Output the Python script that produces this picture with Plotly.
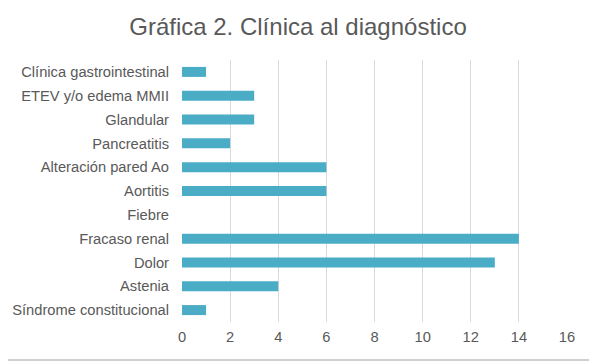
import plotly.graph_objects as go

categories = ["Clínica gastrointestinal", "ETEV y/o edema MMII", "Glandular", "Pancreatitis",
              "Alteración pared Ao", "Aortitis", "Fiebre", "Fracaso renal", "Dolor", "Astenia",
              "Síndrome constitucional"]
values = [1, 3, 3, 2, 6, 6, 0, 14, 13, 4, 1]
x_ticks = [0, 2, 4, 6, 8, 10, 12, 14, 16]
title_text = "Gráfica 2. Clínica al diagnóstico"

# page body adds an 8px offset; figure is sized to fill the rest of the window
W, H = 589, 355
L, R, T, B = 174, 30, 52, 41
pw, ph = W - L - R, H - T - B

fig = go.Figure(go.Bar(
    x=values, y=categories, orientation="h",
    marker=dict(color="#4BACC6", line=dict(width=0)),
    width=0.42,
))

fig.update_layout(
    width=W, height=H,
    margin=dict(l=L, r=R, t=T, b=B, autoexpand=False),
    paper_bgcolor="white", plot_bgcolor="white",
    font=dict(family="Liberation Sans, Arial, sans-serif", color="#595959", size=14.7),
    title=dict(text=title_text, x=(298 - 8) / W, xref="container", xanchor="center",
               y=1 - 19 / H, yref="container", yanchor="middle",
               font=dict(size=24, color="#595959")),
    showlegend=False,
    xaxis=dict(range=[0, 16], tickvals=x_ticks, showgrid=True, gridcolor="#d9d9d9", gridwidth=1,
               zeroline=False, showline=False, ticks="", tickfont=dict(size=14.7, color="#595959"),
               ticklabelstandoff=4, fixedrange=True, automargin=False),
    yaxis=dict(categoryorder="array", categoryarray=categories[::-1], showgrid=False,
               showline=False, zeroline=False, ticks="", ticklabelstandoff=12,
               tickfont=dict(size=14.7, color="#595959"), fixedrange=True, automargin=False),
    shapes=[dict(type="rect", xref="paper", yref="paper",
                 x0=(-20 - L) / pw, x1=(586 - L) / pw,
                 y0=-(352 - (H - B)) / ph, y1=1 + (T + 20) / ph,
                 line=dict(color="#cfcfcf", width=2))],
)

fig.write_html("out.html")
